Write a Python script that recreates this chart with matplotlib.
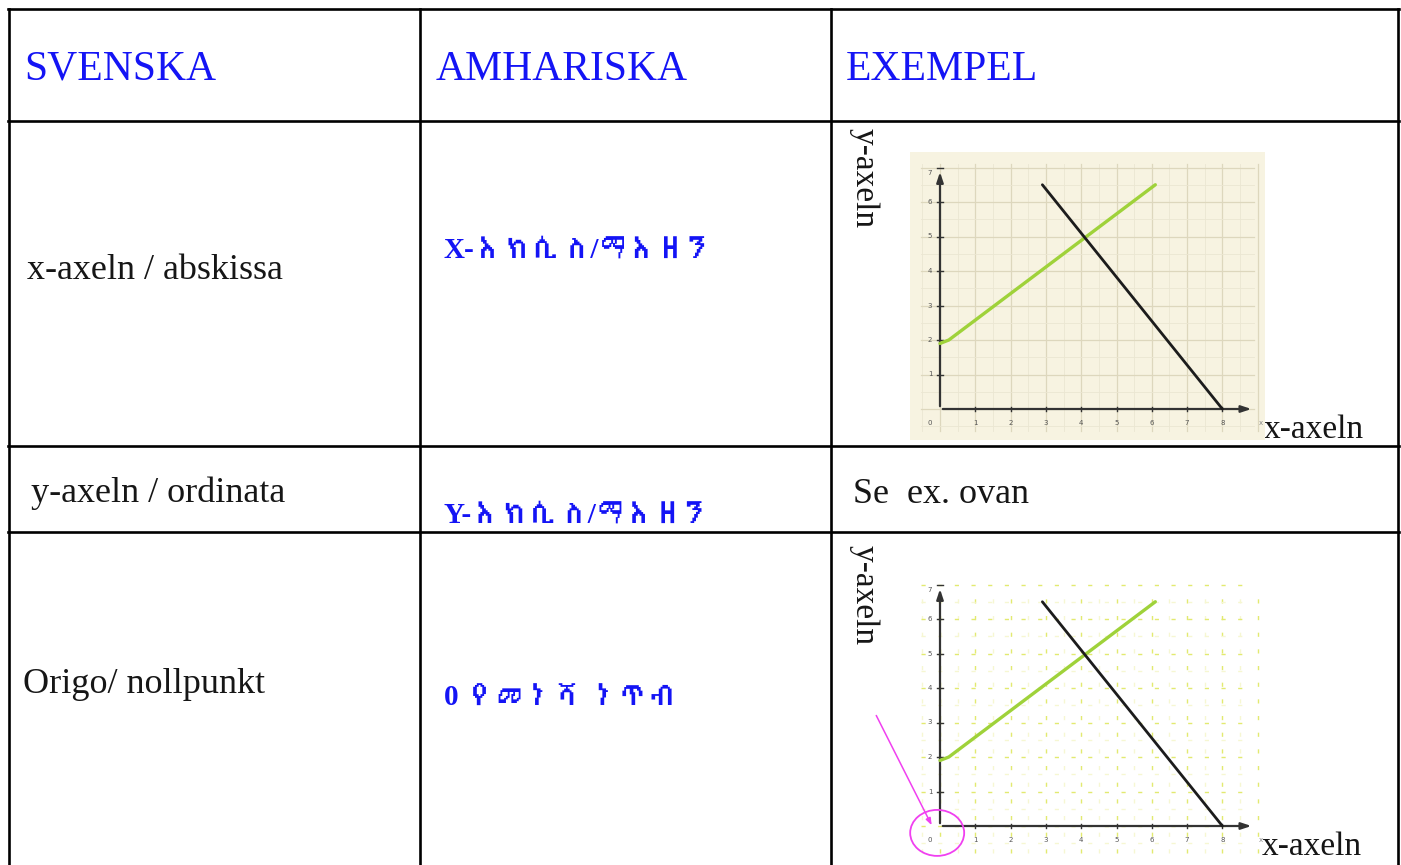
import matplotlib
matplotlib.use("Agg")
import matplotlib.pyplot as plt
from matplotlib import font_manager
from matplotlib.patches import Ellipse
import numpy as np

# ---------------- data ----------------
headers = ["SVENSKA", "AMHARISKA", "EXEMPEL"]
swedish_terms = ["x-axeln / abskissa", "y-axeln / ordinata", "Origo/ nollpunkt"]
amharic_terms = ["X-እክሲስ/ማእዘን", "Y-እክሲስ/ማእዘን", "0 የመነሻ ነጥብ"]
example_note = "Se  ex. ovan"
axis_label_x = "x-axeln"
axis_label_y = "y-axeln"

green_x = [0.0, 0.25, 6.1]
green_y = [1.9, 2.0, 6.5]
black_x = [2.9, 8.0]
black_y = [6.5, 0.0]
x_ticks = [0, 1, 2, 3, 4, 5, 6, 7, 8]
y_ticks = [1, 2, 3, 4, 5, 6, 7]

# ---------------- fonts ----------------
def find_ethiopic_font():
    try:
        from fontTools.ttLib import TTFont
    except Exception:
        return None
    for fe in font_manager.fontManager.ttflist:
        try:
            kw = {}
            if fe.fname.lower().endswith(".ttc"):
                kw["fontNumber"] = 0
            f = TTFont(fe.fname, lazy=True, **kw)
            cmap = f.getBestCmap() or {}
            if 0x12A0 in cmap and 0x1218 in cmap:
                return fe.name
        except Exception:
            continue
    return None

eth = find_ethiopic_font()
amh_family = ["Liberation Serif"] + ([eth] if eth else []) + ["DejaVu Sans"]
serif = ["Liberation Serif", "DejaVu Serif"]

W, H = 1401, 865
fig = plt.figure(figsize=(W / 100, H / 100), dpi=100)
bg = fig.add_axes([0, 0, 1, 1])
bg.set_xlim(0, W)
bg.set_ylim(H, 0)
bg.axis("off")

# ---------------- table grid ----------------
lw = 1.9
col_x = [8.5, 419.5, 830.5, 1397.5]
row_y = [9, 121, 446, 532]
for y in row_y:
    bg.plot([col_x[0] - 1, col_x[-1] + 1], [y, y], color="black", lw=lw, solid_capstyle="projecting")
for x in col_x:
    bg.plot([x, x], [row_y[0], H + 5], color="black", lw=lw, solid_capstyle="projecting")

# ---------------- texts ----------------
blue = "#1414f5"
head_x = [24, 436, 846]
for hx, txt in zip(head_x, headers):
    bg.text(hx, 80, txt, color=blue, fontsize=30, family=serif, va="baseline", ha="left")

text_col = "#161616"
sw_pos = [(27, 279), (31, 502), (23, 693)]
for (sx, sy), txt in zip(sw_pos, swedish_terms):
    bg.text(sx, sy, txt, color=text_col, fontsize=26, family=serif, va="baseline", ha="left")

am_pos = [(444, 250), (444, 515), (444, 698)]
for (ax_, ay), txt in zip(am_pos, amharic_terms):
    bg.text(ax_, ay, txt, color=blue, fontsize=21, family=amh_family, va="center", ha="left",
            fontweight="bold")

bg.text(853, 503, example_note, color=text_col, fontsize=26, family=serif, va="baseline", ha="left")


# ---------------- example charts ----------------
def make_chart(origin_px, top_px, bottom_px, style):
    ox, oy = origin_px
    sx, sy = 35.3, 34.5
    left_px, right_px = 910, 1265
    ax = fig.add_axes([left_px / W, (H - bottom_px) / H, (right_px - left_px) / W, (bottom_px - top_px) / H])
    ax.set_xlim((left_px - ox) / sx, (right_px - ox) / sx)
    ax.set_ylim(-(bottom_px - oy) / sy, (oy - top_px) / sy)
    ax.set_xticks([])
    ax.set_yticks([])
    for s in ax.spines.values():
        s.set_visible(False)
    if style == "paper":
        ax.set_facecolor("#f7f3e1")
        for v in np.arange(-0.5, 9.01, 0.5):
            major = abs(v - round(v)) < 1e-6
            ax.axvline(v, ymin=0.03, ymax=0.96, color="#ddd7bd" if major else "#ebe6d2",
                       lw=0.9 if major else 0.6, zorder=1)
        for v in np.arange(-0.5, 7.51, 0.5):
            major = abs(v - round(v)) < 1e-6
            ax.axhline(v, xmin=0.03, xmax=0.97, color="#ddd7bd" if major else "#ebe6d2",
                       lw=0.9 if major else 0.6, zorder=1)
    else:
        ax.set_facecolor("none")
        for v in np.arange(-0.5, 9.01, 0.5):
            major = abs(v - round(v)) < 1e-6
            ax.axvline(v, ymin=0.03, ymax=0.97, color="#e2ea70" if major else "#f6f7d2",
                       lw=1.0, ls=(0, (3, 9)), zorder=1)
        for v in np.arange(-0.5, 7.51, 0.5):
            major = abs(v - round(v)) < 1e-6
            ax.axhline(v, xmin=0.03, xmax=0.97, color="#e2ea70" if major else "#f6f7d2",
                       lw=1.0, ls=(0, (3, 9)), zorder=1)

    axis_col = "#333333"
    ax.annotate("", xy=(8.9, 0), xytext=(0, 0),
                arrowprops=dict(arrowstyle="-|>,head_length=0.6,head_width=0.2", color=axis_col, lw=1.6),
                zorder=3)
    ax.annotate("", xy=(0, 6.95), xytext=(0, 0),
                arrowprops=dict(arrowstyle="-|>,head_length=0.6,head_width=0.2", color=axis_col, lw=1.6),
                zorder=3)
    for t in x_ticks[1:]:
        ax.plot([t, t], [-0.07, 0.07], color=axis_col, lw=1.0, zorder=3)
    for t in y_ticks:
        ax.plot([-0.08, 0.08], [t, t], color=axis_col, lw=1.0, zorder=3)
    for t in x_ticks:
        ax.text(t - (0.3 if t == 0 else 0), -0.42, str(t), fontsize=5, color="#555555",
                ha="center", va="center", zorder=3)
    ax.text(9.1, -0.42, "x", fontsize=5, color="#888888", ha="center", va="center", zorder=3)
    for t in y_ticks:
        ax.text(-0.28, t - (0.15 if t == 7 else 0), str(t), fontsize=5, color="#555555",
                ha="center", va="center", zorder=3)

    ax.plot(green_x, green_y, color="#9fd23a", lw=2.4, zorder=4, solid_capstyle="round")
    ax.plot(black_x, black_y, color="#1c1c1c", lw=2.0, zorder=4, solid_capstyle="round")
    return ax


ax1 = make_chart((940, 409), 152, 440, "paper")
ax2 = make_chart((940, 826), 578, 862, "dotted")

# axis labels around charts
bg.text(864, 128, axis_label_y, rotation=-90, fontsize=24, family=serif, color=text_col,
        ha="center", va="top")
bg.text(1264, 438, axis_label_x, fontsize=24, family=serif, color=text_col, ha="left", va="baseline")
bg.text(864, 545, axis_label_y, rotation=-90, fontsize=24, family=serif, color=text_col,
        ha="center", va="top")
bg.text(1262, 855, axis_label_x, fontsize=24, family=serif, color=text_col, ha="left", va="baseline")

# origin highlight on second chart
mag = "#f040f0"
sx, sy = 35.3, 34.5
ax2.annotate("", xy=(-0.2, -0.05), xytext=((875 - 940) / sx, (826 - 713) / sy),
             arrowprops=dict(arrowstyle="-|>,head_length=0.4,head_width=0.15", color=mag, lw=1.1),
             annotation_clip=False, zorder=5)
ax2.add_patch(Ellipse((-0.08, -0.2), 54 / sx, 46 / sy, fill=False, edgecolor=mag, lw=1.3,
                      clip_on=False, zorder=5))

fig.savefig("out.png", dpi=100)
